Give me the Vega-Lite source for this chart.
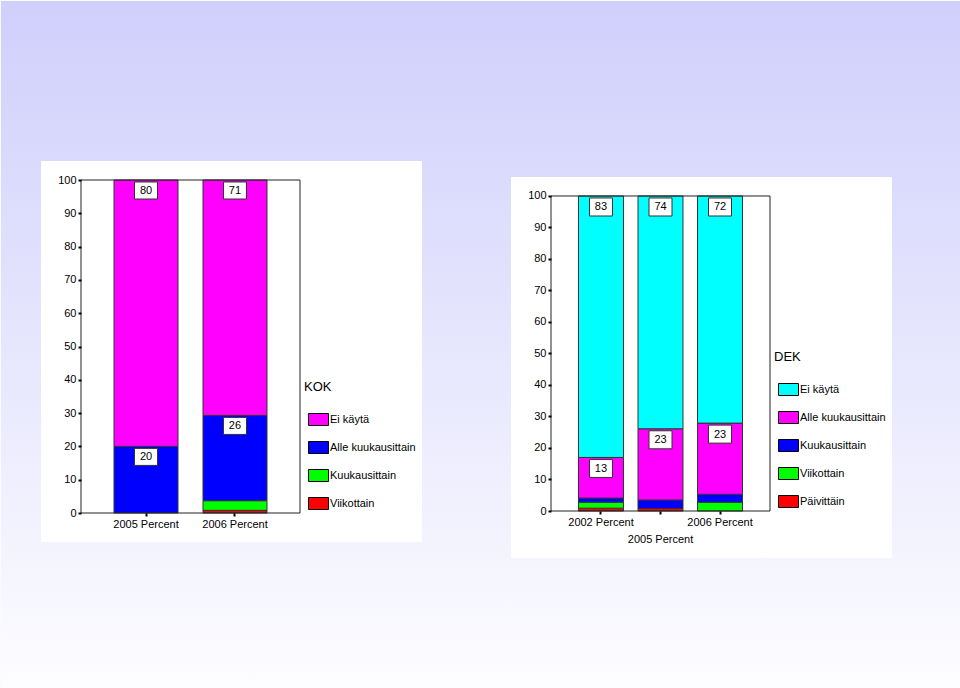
{
  "$schema": "https://vega.github.io/schema/vega-lite/v6.json",
  "background": "#fbfbff",
  "padding": 0,
  "bounds": "flush",
  "spacing": 251,
  "datasets": {
    "kok": [
      {"year": "2005 Percent", "cat": "Alle kuukausittain", "pct": 20},
      {"year": "2005 Percent", "cat": "Ei käytä", "pct": 80},
      {"year": "2006 Percent", "cat": "Viikottain", "pct": 0.8},
      {"year": "2006 Percent", "cat": "Kuukausittain", "pct": 2.9},
      {"year": "2006 Percent", "cat": "Alle kuukausittain", "pct": 25.6},
      {"year": "2006 Percent", "cat": "Ei käytä", "pct": 70.7}
    ],
    "dek": [
      {"year": "2002 Percent", "cat": "Päivittäin", "pct": 0.9},
      {"year": "2002 Percent", "cat": "Viikottain", "pct": 1.9},
      {"year": "2002 Percent", "cat": "Kuukausittain", "pct": 1.3},
      {"year": "2002 Percent", "cat": "Alle kuukausittain", "pct": 12.9},
      {"year": "2002 Percent", "cat": "Ei käytä", "pct": 83},
      {"year": "2005 Percent", "cat": "Päivittäin", "pct": 0.8},
      {"year": "2005 Percent", "cat": "Kuukausittain", "pct": 2.7},
      {"year": "2005 Percent", "cat": "Alle kuukausittain", "pct": 22.6},
      {"year": "2005 Percent", "cat": "Ei käytä", "pct": 73.9},
      {"year": "2006 Percent", "cat": "Viikottain", "pct": 2.8},
      {"year": "2006 Percent", "cat": "Kuukausittain", "pct": 2.5},
      {"year": "2006 Percent", "cat": "Alle kuukausittain", "pct": 22.6},
      {"year": "2006 Percent", "cat": "Ei käytä", "pct": 72.1}
    ]
  },
  "resolve": {
    "scale": {"x": "independent", "y": "independent", "color": "independent"},
    "legend": {"color": "independent"}
  },
  "hconcat": [
    {
      "width": 219,
      "height": 333,
      "resolve": {"scale": {"x": "independent", "y": "independent"}},
      "layer": [
        {
          "data": {"values": [{"area": "window"}]},
          "mark": {"type": "rect", "color": {"gradient": "linear", "x1": 0, "y1": 0, "x2": 0, "y2": 1, "stops": [{"offset": 0, "color": "#cfcffc"}, {"offset": 1, "color": "#fdfdff"}]}},
          "encoding": {
            "x": {"datum": -0.3653, "type": "quantitative", "scale": {"domain": [0, 1]}, "axis": null},
            "x2": {"datum": 4.0183},
            "y": {"datum": 153.754, "type": "quantitative", "scale": {"domain": [0, 100], "nice": false, "zero": false}, "axis": null},
            "y2": {"datum": -52.853}
          }
        },
        {
          "data": {"values": [{"area": "panel"}]},
          "mark": {"type": "rect", "color": "white"},
          "encoding": {
            "x": {"datum": -0.18265, "type": "quantitative", "scale": {"domain": [0, 1]}, "axis": null},
            "x2": {"datum": 1.55708},
            "y": {"datum": 105.706, "type": "quantitative", "scale": {"domain": [0, 100], "nice": false, "zero": false}, "axis": null},
            "y2": {"datum": -8.709}
          }
        },
        {
          "data": {"name": "kok"},
          "transform": [{"stack": "pct", "groupby": ["year"], "as": ["y0", "y1"]}],
          "mark": {"type": "bar", "stroke": "#333", "strokeWidth": 1},
          "encoding": {
            "x": {"field": "year", "type": "nominal", "sort": null, "scale": {"type": "band", "paddingInner": 0.281, "paddingOuter": 0.371}, "axis": {"title": null, "labelAngle": 0, "zindex": 2}},
            "y": {"field": "y0", "type": "quantitative", "scale": {"domain": [0, 100], "nice": false, "zero": false}, "axis": {"title": null, "zindex": 2, "values": [0, 10, 20, 30, 40, 50, 60, 70, 80, 90, 100]}},
            "y2": {"field": "y1"},
            "color": {
              "field": "cat", "type": "nominal",
              "scale": {"domain": ["Ei käytä", "Alle kuukausittain", "Kuukausittain", "Viikottain"], "range": ["#ff00ff", "#0000ff", "#00ff00", "#ff0000"]},
              "legend": {"title": "KOK", "orient": "none", "legendX": 223, "legendY": 201}
            }
          }
        },
        {
          "data": {"values": [{"area": "frame"}]},
          "mark": {"type": "rect", "filled": false, "stroke": "#222", "strokeWidth": 1},
          "encoding": {
            "x": {"datum": 0, "type": "quantitative", "scale": {"domain": [0, 1]}, "axis": null},
            "x2": {"datum": 1},
            "y": {"datum": 0, "type": "quantitative", "scale": {"domain": [0, 100], "nice": false, "zero": false}, "axis": null},
            "y2": {"datum": 100}
          }
        },
        {
          "data": {"name": "kok"},
          "transform": [{"stack": "pct", "groupby": ["year"], "as": ["y0", "y1"]}, {"filter": "datum.cat === 'Ei käytä' || datum.cat === 'Alle kuukausittain'"}],
          "mark": {"type": "point", "shape": "M-1.15,-0.85L1.15,-0.85L1.15,0.85L-1.15,0.85Z", "size": 400, "filled": true, "fill": "white", "stroke": "#333", "strokeWidth": 1, "opacity": 1, "yOffset": 10.5},
          "encoding": {
            "x": {"field": "year", "type": "nominal", "sort": null, "scale": {"type": "band", "paddingInner": 0.281, "paddingOuter": 0.371}, "axis": null},
            "y": {"field": "y1", "type": "quantitative", "scale": {"domain": [0, 100], "nice": false, "zero": false}, "axis": null}
          }
        },
        {
          "data": {"name": "kok"},
          "transform": [{"stack": "pct", "groupby": ["year"], "as": ["y0", "y1"]}, {"filter": "datum.cat === 'Ei käytä' || datum.cat === 'Alle kuukausittain'"}],
          "mark": {"type": "text", "font": "Liberation Sans", "fontSize": 11, "color": "black", "baseline": "middle", "yOffset": 11},
          "encoding": {
            "x": {"field": "year", "type": "nominal", "sort": null, "scale": {"type": "band", "paddingInner": 0.281, "paddingOuter": 0.371}, "axis": null},
            "y": {"field": "y1", "type": "quantitative", "scale": {"domain": [0, 100], "nice": false, "zero": false}, "axis": null},
            "text": {"field": "pct", "type": "quantitative", "format": ".0f"}
          }
        }
      ]
    },
    {
      "width": 219,
      "height": 331,
      "resolve": {"scale": {"x": "independent", "y": "independent"}},
      "layer": [
        {
          "data": {"values": [{"area": "panel"}]},
          "mark": {"type": "rect", "color": "white"},
          "encoding": {
            "x": {"datum": -0.18265, "type": "quantitative", "scale": {"domain": [0, 1]}, "axis": null},
            "x2": {"datum": 1.55708},
            "y": {"datum": 106.03, "type": "quantitative", "scale": {"domain": [0, 105.079], "nice": false, "zero": false}, "axis": null},
            "y2": {"datum": -14.92}
          }
        },
        {
          "data": {"name": "dek"},
          "transform": [{"stack": "pct", "groupby": ["year"], "as": ["y0", "y1"]}],
          "mark": {"type": "bar", "stroke": "#333", "strokeWidth": 1},
          "encoding": {
            "x": {"field": "year", "type": "nominal", "sort": null, "scale": {"type": "band", "paddingInner": 0.244, "paddingOuter": 0.462}, "axis": {"title": null, "zindex": 2, "labelAngle": 0, "labelOverlap": false, "labelLineHeight": 17, "labelExpr": "datum.value == '2005 Percent' ? ['', datum.value] : datum.value"}},
            "y": {"field": "y0", "type": "quantitative", "scale": {"domain": [0, 105.079], "nice": false, "zero": false}, "axis": {"title": null, "zindex": 2, "values": [0, 10, 20, 30, 40, 50, 60, 70, 80, 90, 100]}},
            "y2": {"field": "y1"},
            "color": {
              "field": "cat", "type": "nominal",
              "scale": {"domain": ["Ei käytä", "Alle kuukausittain", "Kuukausittain", "Viikottain", "Päivittäin"], "range": ["#00ffff", "#ff00ff", "#0000ff", "#00ff00", "#ff0000"]},
              "legend": {"title": "DEK", "orient": "none", "legendX": 223, "legendY": 171}
            }
          }
        },
        {
          "data": {"values": [{"area": "frame"}]},
          "mark": {"type": "rect", "filled": false, "stroke": "#222", "strokeWidth": 1},
          "encoding": {
            "x": {"datum": 0, "type": "quantitative", "scale": {"domain": [0, 1]}, "axis": null},
            "x2": {"datum": 1},
            "y": {"datum": 0, "type": "quantitative", "scale": {"domain": [0, 105.079], "nice": false, "zero": false}, "axis": null},
            "y2": {"datum": 100}
          }
        },
        {
          "data": {"name": "dek"},
          "transform": [{"stack": "pct", "groupby": ["year"], "as": ["y0", "y1"]}, {"filter": "datum.cat === 'Ei käytä' || datum.cat === 'Alle kuukausittain'"}],
          "mark": {"type": "point", "shape": "M-1.15,-0.9L1.15,-0.9L1.15,0.9L-1.15,0.9Z", "size": 400, "filled": true, "fill": "white", "stroke": "#333", "strokeWidth": 1, "opacity": 1, "yOffset": 11},
          "encoding": {
            "x": {"field": "year", "type": "nominal", "sort": null, "scale": {"type": "band", "paddingInner": 0.244, "paddingOuter": 0.462}, "axis": null},
            "y": {"field": "y1", "type": "quantitative", "scale": {"domain": [0, 105.079], "nice": false, "zero": false}, "axis": null}
          }
        },
        {
          "data": {"name": "dek"},
          "transform": [{"stack": "pct", "groupby": ["year"], "as": ["y0", "y1"]}, {"filter": "datum.cat === 'Ei käytä' || datum.cat === 'Alle kuukausittain'"}],
          "mark": {"type": "text", "font": "Liberation Sans", "fontSize": 11, "color": "black", "baseline": "middle", "yOffset": 11.5},
          "encoding": {
            "x": {"field": "year", "type": "nominal", "sort": null, "scale": {"type": "band", "paddingInner": 0.244, "paddingOuter": 0.462}, "axis": null},
            "y": {"field": "y1", "type": "quantitative", "scale": {"domain": [0, 105.079], "nice": false, "zero": false}, "axis": null},
            "text": {"field": "pct", "type": "quantitative", "format": ".0f"}
          }
        }
      ]
    }
  ],
  "config": {
    "view": {"stroke": null},
    "axis": {
      "domain": false,
      "grid": false,
      "labelFont": "Liberation Sans",
      "labelFontSize": 11,
      "labelColor": "black",
      "tickColor": "black",
      "tickSize": 3,
      "tickWidth": 2,
      "labelPadding": 2
    },
    "legend": {
      "padding": 0,
      "symbolType": "M-1,-0.6L1,-0.6L1,0.6L-1,0.6Z",
      "symbolSize": 400,
      "symbolStrokeColor": "black",
      "symbolStrokeWidth": 1,
      "symbolOffset": 4,
      "labelOffset": 1,
      "labelFont": "Liberation Sans",
      "labelFontSize": 11,
      "labelColor": "black",
      "titleFont": "Liberation Sans",
      "titleFontSize": 13,
      "titleFontWeight": "normal",
      "titleColor": "black",
      "titlePadding": 15,
      "rowPadding": 9
    }
  }
}
